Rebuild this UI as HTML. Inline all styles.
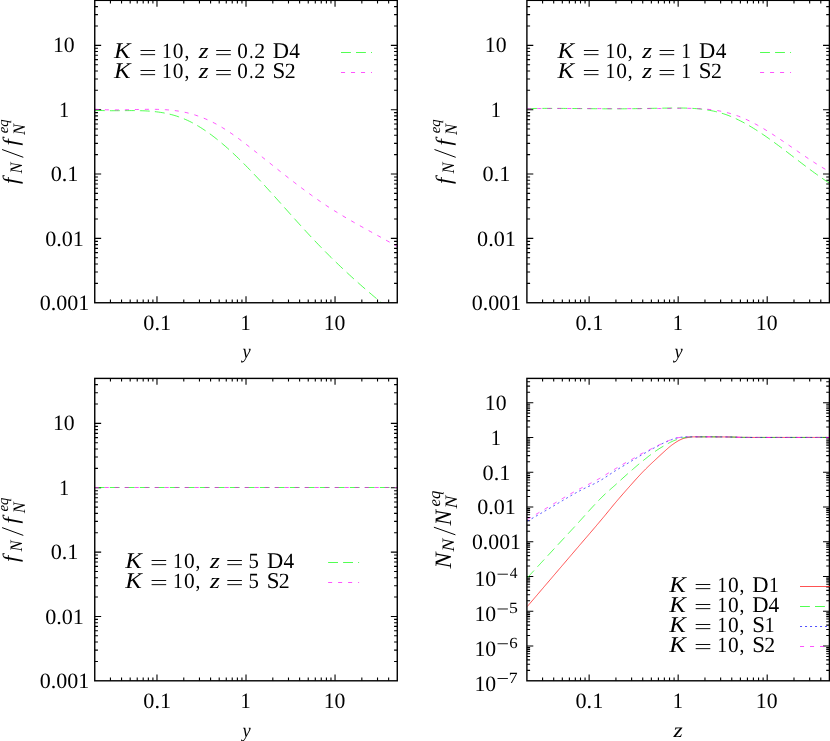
<!DOCTYPE html>
<html><head><meta charset="utf-8"><title>plots</title>
<style>html,body{margin:0;padding:0;background:#fff}svg{display:block}svg{will-change:transform}</style></head>
<body>
<svg width="830" height="741" viewBox="0 0 830 741" font-family="'Liberation Serif', serif" fill="#000" text-rendering="geometricPrecision">
<defs>
<clipPath id="c1"><rect x="94.75" y="0.35" width="304.52" height="302.4"/></clipPath>
<clipPath id="c2"><rect x="526.9" y="0.35" width="304.52" height="302.4"/></clipPath>
<clipPath id="c3"><rect x="94.75" y="378.4" width="304.52" height="302.4"/></clipPath>
<clipPath id="c4"><rect x="526.9" y="378.4" width="304.52" height="302.4"/></clipPath>
</defs>
<rect width="830" height="741" fill="#fff"/>
<path d="M110.43 302.75v-3.2M110.43 0.35v3.2M121.55 302.75v-3.2M121.55 0.35v3.2M130.18 302.75v-3.2M130.18 0.35v3.2M137.23 302.75v-3.2M137.23 0.35v3.2M143.19 302.75v-3.2M143.19 0.35v3.2M148.35 302.75v-3.2M148.35 0.35v3.2M152.91 302.75v-3.2M152.91 0.35v3.2M156.98 302.75v-6.4M156.98 0.35v6.4M183.78 302.75v-3.2M183.78 0.35v3.2M199.46 302.75v-3.2M199.46 0.35v3.2M210.58 302.75v-3.2M210.58 0.35v3.2M219.21 302.75v-3.2M219.21 0.35v3.2M226.26 302.75v-3.2M226.26 0.35v3.2M232.22 302.75v-3.2M232.22 0.35v3.2M237.38 302.75v-3.2M237.38 0.35v3.2M241.94 302.75v-3.2M241.94 0.35v3.2M246.01 302.75v-6.4M246.01 0.35v6.4M272.81 302.75v-3.2M272.81 0.35v3.2M288.49 302.75v-3.2M288.49 0.35v3.2M299.61 302.75v-3.2M299.61 0.35v3.2M308.24 302.75v-3.2M308.24 0.35v3.2M315.29 302.75v-3.2M315.29 0.35v3.2M321.25 302.75v-3.2M321.25 0.35v3.2M326.41 302.75v-3.2M326.41 0.35v3.2M330.97 302.75v-3.2M330.97 0.35v3.2M335.04 302.75v-6.4M335.04 0.35v6.4M361.84 302.75v-3.2M361.84 0.35v3.2M377.52 302.75v-3.2M377.52 0.35v3.2M388.64 302.75v-3.2M388.64 0.35v3.2M94.75 283.38h3.2M397.27 283.38h-3.2M94.75 272.05h3.2M397.27 272.05h-3.2M94.75 264h3.2M397.27 264h-3.2M94.75 257.77h3.2M397.27 257.77h-3.2M94.75 252.67h3.2M397.27 252.67h-3.2M94.75 248.36h3.2M397.27 248.36h-3.2M94.75 244.63h3.2M397.27 244.63h-3.2M94.75 241.34h3.2M397.27 241.34h-3.2M94.75 238.4h6.4M397.27 238.4h-6.4M94.75 219.02h3.2M397.27 219.02h-3.2M94.75 207.69h3.2M397.27 207.69h-3.2M94.75 199.65h3.2M397.27 199.65h-3.2M94.75 193.41h3.2M397.27 193.41h-3.2M94.75 188.32h3.2M397.27 188.32h-3.2M94.75 184.01h3.2M397.27 184.01h-3.2M94.75 180.28h3.2M397.27 180.28h-3.2M94.75 176.99h3.2M397.27 176.99h-3.2M94.75 174.04h6.4M397.27 174.04h-6.4M94.75 154.67h3.2M397.27 154.67h-3.2M94.75 143.34h3.2M397.27 143.34h-3.2M94.75 135.3h3.2M397.27 135.3h-3.2M94.75 129.06h3.2M397.27 129.06h-3.2M94.75 123.96h3.2M397.27 123.96h-3.2M94.75 119.66h3.2M397.27 119.66h-3.2M94.75 115.92h3.2M397.27 115.92h-3.2M94.75 112.63h3.2M397.27 112.63h-3.2M94.75 109.69h6.4M397.27 109.69h-6.4M94.75 90.31h3.2M397.27 90.31h-3.2M94.75 78.98h3.2M397.27 78.98h-3.2M94.75 70.94h3.2M397.27 70.94h-3.2M94.75 64.7h3.2M397.27 64.7h-3.2M94.75 59.61h3.2M397.27 59.61h-3.2M94.75 55.3h3.2M397.27 55.3h-3.2M94.75 51.57h3.2M397.27 51.57h-3.2M94.75 48.28h3.2M397.27 48.28h-3.2M94.75 45.33h6.4M397.27 45.33h-6.4M94.75 25.96h3.2M397.27 25.96h-3.2M94.75 14.63h3.2M397.27 14.63h-3.2M94.75 6.59h3.2M397.27 6.59h-3.2" stroke="#000" stroke-width="1.1" fill="none"/>
<path d="M542.58 302.75v-3.2M542.58 0.35v3.2M553.7 302.75v-3.2M553.7 0.35v3.2M562.33 302.75v-3.2M562.33 0.35v3.2M569.38 302.75v-3.2M569.38 0.35v3.2M575.34 302.75v-3.2M575.34 0.35v3.2M580.5 302.75v-3.2M580.5 0.35v3.2M585.06 302.75v-3.2M585.06 0.35v3.2M589.13 302.75v-6.4M589.13 0.35v6.4M615.93 302.75v-3.2M615.93 0.35v3.2M631.61 302.75v-3.2M631.61 0.35v3.2M642.73 302.75v-3.2M642.73 0.35v3.2M651.36 302.75v-3.2M651.36 0.35v3.2M658.41 302.75v-3.2M658.41 0.35v3.2M664.37 302.75v-3.2M664.37 0.35v3.2M669.53 302.75v-3.2M669.53 0.35v3.2M674.09 302.75v-3.2M674.09 0.35v3.2M678.16 302.75v-6.4M678.16 0.35v6.4M704.96 302.75v-3.2M704.96 0.35v3.2M720.64 302.75v-3.2M720.64 0.35v3.2M731.76 302.75v-3.2M731.76 0.35v3.2M740.39 302.75v-3.2M740.39 0.35v3.2M747.44 302.75v-3.2M747.44 0.35v3.2M753.4 302.75v-3.2M753.4 0.35v3.2M758.56 302.75v-3.2M758.56 0.35v3.2M763.12 302.75v-3.2M763.12 0.35v3.2M767.19 302.75v-6.4M767.19 0.35v6.4M793.99 302.75v-3.2M793.99 0.35v3.2M809.67 302.75v-3.2M809.67 0.35v3.2M820.79 302.75v-3.2M820.79 0.35v3.2M526.9 283.38h3.2M829.42 283.38h-3.2M526.9 272.05h3.2M829.42 272.05h-3.2M526.9 264h3.2M829.42 264h-3.2M526.9 257.77h3.2M829.42 257.77h-3.2M526.9 252.67h3.2M829.42 252.67h-3.2M526.9 248.36h3.2M829.42 248.36h-3.2M526.9 244.63h3.2M829.42 244.63h-3.2M526.9 241.34h3.2M829.42 241.34h-3.2M526.9 238.4h6.4M829.42 238.4h-6.4M526.9 219.02h3.2M829.42 219.02h-3.2M526.9 207.69h3.2M829.42 207.69h-3.2M526.9 199.65h3.2M829.42 199.65h-3.2M526.9 193.41h3.2M829.42 193.41h-3.2M526.9 188.32h3.2M829.42 188.32h-3.2M526.9 184.01h3.2M829.42 184.01h-3.2M526.9 180.28h3.2M829.42 180.28h-3.2M526.9 176.99h3.2M829.42 176.99h-3.2M526.9 174.04h6.4M829.42 174.04h-6.4M526.9 154.67h3.2M829.42 154.67h-3.2M526.9 143.34h3.2M829.42 143.34h-3.2M526.9 135.3h3.2M829.42 135.3h-3.2M526.9 129.06h3.2M829.42 129.06h-3.2M526.9 123.96h3.2M829.42 123.96h-3.2M526.9 119.66h3.2M829.42 119.66h-3.2M526.9 115.92h3.2M829.42 115.92h-3.2M526.9 112.63h3.2M829.42 112.63h-3.2M526.9 109.69h6.4M829.42 109.69h-6.4M526.9 90.31h3.2M829.42 90.31h-3.2M526.9 78.98h3.2M829.42 78.98h-3.2M526.9 70.94h3.2M829.42 70.94h-3.2M526.9 64.7h3.2M829.42 64.7h-3.2M526.9 59.61h3.2M829.42 59.61h-3.2M526.9 55.3h3.2M829.42 55.3h-3.2M526.9 51.57h3.2M829.42 51.57h-3.2M526.9 48.28h3.2M829.42 48.28h-3.2M526.9 45.33h6.4M829.42 45.33h-6.4M526.9 25.96h3.2M829.42 25.96h-3.2M526.9 14.63h3.2M829.42 14.63h-3.2M526.9 6.59h3.2M829.42 6.59h-3.2" stroke="#000" stroke-width="1.1" fill="none"/>
<path d="M110.43 680.8v-3.2M110.43 378.4v3.2M121.55 680.8v-3.2M121.55 378.4v3.2M130.18 680.8v-3.2M130.18 378.4v3.2M137.23 680.8v-3.2M137.23 378.4v3.2M143.19 680.8v-3.2M143.19 378.4v3.2M148.35 680.8v-3.2M148.35 378.4v3.2M152.91 680.8v-3.2M152.91 378.4v3.2M156.98 680.8v-6.4M156.98 378.4v6.4M183.78 680.8v-3.2M183.78 378.4v3.2M199.46 680.8v-3.2M199.46 378.4v3.2M210.58 680.8v-3.2M210.58 378.4v3.2M219.21 680.8v-3.2M219.21 378.4v3.2M226.26 680.8v-3.2M226.26 378.4v3.2M232.22 680.8v-3.2M232.22 378.4v3.2M237.38 680.8v-3.2M237.38 378.4v3.2M241.94 680.8v-3.2M241.94 378.4v3.2M246.01 680.8v-6.4M246.01 378.4v6.4M272.81 680.8v-3.2M272.81 378.4v3.2M288.49 680.8v-3.2M288.49 378.4v3.2M299.61 680.8v-3.2M299.61 378.4v3.2M308.24 680.8v-3.2M308.24 378.4v3.2M315.29 680.8v-3.2M315.29 378.4v3.2M321.25 680.8v-3.2M321.25 378.4v3.2M326.41 680.8v-3.2M326.41 378.4v3.2M330.97 680.8v-3.2M330.97 378.4v3.2M335.04 680.8v-6.4M335.04 378.4v6.4M361.84 680.8v-3.2M361.84 378.4v3.2M377.52 680.8v-3.2M377.52 378.4v3.2M388.64 680.8v-3.2M388.64 378.4v3.2M94.75 661.43h3.2M397.27 661.43h-3.2M94.75 650.1h3.2M397.27 650.1h-3.2M94.75 642.05h3.2M397.27 642.05h-3.2M94.75 635.82h3.2M397.27 635.82h-3.2M94.75 630.72h3.2M397.27 630.72h-3.2M94.75 626.41h3.2M397.27 626.41h-3.2M94.75 622.68h3.2M397.27 622.68h-3.2M94.75 619.39h3.2M397.27 619.39h-3.2M94.75 616.45h6.4M397.27 616.45h-6.4M94.75 597.07h3.2M397.27 597.07h-3.2M94.75 585.74h3.2M397.27 585.74h-3.2M94.75 577.7h3.2M397.27 577.7h-3.2M94.75 571.46h3.2M397.27 571.46h-3.2M94.75 566.37h3.2M397.27 566.37h-3.2M94.75 562.06h3.2M397.27 562.06h-3.2M94.75 558.33h3.2M397.27 558.33h-3.2M94.75 555.04h3.2M397.27 555.04h-3.2M94.75 552.09h6.4M397.27 552.09h-6.4M94.75 532.72h3.2M397.27 532.72h-3.2M94.75 521.39h3.2M397.27 521.39h-3.2M94.75 513.35h3.2M397.27 513.35h-3.2M94.75 507.11h3.2M397.27 507.11h-3.2M94.75 502.01h3.2M397.27 502.01h-3.2M94.75 497.71h3.2M397.27 497.71h-3.2M94.75 493.97h3.2M397.27 493.97h-3.2M94.75 490.68h3.2M397.27 490.68h-3.2M94.75 487.74h6.4M397.27 487.74h-6.4M94.75 468.36h3.2M397.27 468.36h-3.2M94.75 457.03h3.2M397.27 457.03h-3.2M94.75 448.99h3.2M397.27 448.99h-3.2M94.75 442.75h3.2M397.27 442.75h-3.2M94.75 437.66h3.2M397.27 437.66h-3.2M94.75 433.35h3.2M397.27 433.35h-3.2M94.75 429.62h3.2M397.27 429.62h-3.2M94.75 426.33h3.2M397.27 426.33h-3.2M94.75 423.38h6.4M397.27 423.38h-6.4M94.75 404.01h3.2M397.27 404.01h-3.2M94.75 392.68h3.2M397.27 392.68h-3.2M94.75 384.64h3.2M397.27 384.64h-3.2" stroke="#000" stroke-width="1.1" fill="none"/>
<path d="M542.58 680.8v-3.2M542.58 378.4v3.2M553.7 680.8v-3.2M553.7 378.4v3.2M562.33 680.8v-3.2M562.33 378.4v3.2M569.38 680.8v-3.2M569.38 378.4v3.2M575.34 680.8v-3.2M575.34 378.4v3.2M580.5 680.8v-3.2M580.5 378.4v3.2M585.06 680.8v-3.2M585.06 378.4v3.2M589.13 680.8v-6.4M589.13 378.4v6.4M615.93 680.8v-3.2M615.93 378.4v3.2M631.61 680.8v-3.2M631.61 378.4v3.2M642.73 680.8v-3.2M642.73 378.4v3.2M651.36 680.8v-3.2M651.36 378.4v3.2M658.41 680.8v-3.2M658.41 378.4v3.2M664.37 680.8v-3.2M664.37 378.4v3.2M669.53 680.8v-3.2M669.53 378.4v3.2M674.09 680.8v-3.2M674.09 378.4v3.2M678.16 680.8v-6.4M678.16 378.4v6.4M704.96 680.8v-3.2M704.96 378.4v3.2M720.64 680.8v-3.2M720.64 378.4v3.2M731.76 680.8v-3.2M731.76 378.4v3.2M740.39 680.8v-3.2M740.39 378.4v3.2M747.44 680.8v-3.2M747.44 378.4v3.2M753.4 680.8v-3.2M753.4 378.4v3.2M758.56 680.8v-3.2M758.56 378.4v3.2M763.12 680.8v-3.2M763.12 378.4v3.2M767.19 680.8v-6.4M767.19 378.4v6.4M793.99 680.8v-3.2M793.99 378.4v3.2M809.67 680.8v-3.2M809.67 378.4v3.2M820.79 680.8v-3.2M820.79 378.4v3.2M526.9 670.34h3.2M829.42 670.34h-3.2M526.9 664.21h3.2M829.42 664.21h-3.2M526.9 659.87h3.2M829.42 659.87h-3.2M526.9 656.5h3.2M829.42 656.5h-3.2M526.9 653.75h3.2M829.42 653.75h-3.2M526.9 651.42h3.2M829.42 651.42h-3.2M526.9 649.41h3.2M829.42 649.41h-3.2M526.9 647.63h3.2M829.42 647.63h-3.2M526.9 646.04h6.4M829.42 646.04h-6.4M526.9 635.57h3.2M829.42 635.57h-3.2M526.9 629.45h3.2M829.42 629.45h-3.2M526.9 625.11h3.2M829.42 625.11h-3.2M526.9 621.74h3.2M829.42 621.74h-3.2M526.9 618.99h3.2M829.42 618.99h-3.2M526.9 616.66h3.2M829.42 616.66h-3.2M526.9 614.64h3.2M829.42 614.64h-3.2M526.9 612.87h3.2M829.42 612.87h-3.2M526.9 611.27h6.4M829.42 611.27h-6.4M526.9 600.81h3.2M829.42 600.81h-3.2M526.9 594.69h3.2M829.42 594.69h-3.2M526.9 590.35h3.2M829.42 590.35h-3.2M526.9 586.98h3.2M829.42 586.98h-3.2M526.9 584.22h3.2M829.42 584.22h-3.2M526.9 581.9h3.2M829.42 581.9h-3.2M526.9 579.88h3.2M829.42 579.88h-3.2M526.9 578.1h3.2M829.42 578.1h-3.2M526.9 576.51h6.4M829.42 576.51h-6.4M526.9 566.05h3.2M829.42 566.05h-3.2M526.9 559.93h3.2M829.42 559.93h-3.2M526.9 555.58h3.2M829.42 555.58h-3.2M526.9 552.21h3.2M829.42 552.21h-3.2M526.9 549.46h3.2M829.42 549.46h-3.2M526.9 547.13h3.2M829.42 547.13h-3.2M526.9 545.12h3.2M829.42 545.12h-3.2M526.9 543.34h3.2M829.42 543.34h-3.2M526.9 541.75h6.4M829.42 541.75h-6.4M526.9 531.28h3.2M829.42 531.28h-3.2M526.9 525.16h3.2M829.42 525.16h-3.2M526.9 520.82h3.2M829.42 520.82h-3.2M526.9 517.45h3.2M829.42 517.45h-3.2M526.9 514.7h3.2M829.42 514.7h-3.2M526.9 512.37h3.2M829.42 512.37h-3.2M526.9 510.36h3.2M829.42 510.36h-3.2M526.9 508.58h3.2M829.42 508.58h-3.2M526.9 506.99h6.4M829.42 506.99h-6.4M526.9 496.52h3.2M829.42 496.52h-3.2M526.9 490.4h3.2M829.42 490.4h-3.2M526.9 486.06h3.2M829.42 486.06h-3.2M526.9 482.69h3.2M829.42 482.69h-3.2M526.9 479.94h3.2M829.42 479.94h-3.2M526.9 477.61h3.2M829.42 477.61h-3.2M526.9 475.59h3.2M829.42 475.59h-3.2M526.9 473.81h3.2M829.42 473.81h-3.2M526.9 472.22h6.4M829.42 472.22h-6.4M526.9 461.76h3.2M829.42 461.76h-3.2M526.9 455.64h3.2M829.42 455.64h-3.2M526.9 451.29h3.2M829.42 451.29h-3.2M526.9 447.93h3.2M829.42 447.93h-3.2M526.9 445.17h3.2M829.42 445.17h-3.2M526.9 442.85h3.2M829.42 442.85h-3.2M526.9 440.83h3.2M829.42 440.83h-3.2M526.9 439.05h3.2M829.42 439.05h-3.2M526.9 437.46h6.4M829.42 437.46h-6.4M526.9 427h3.2M829.42 427h-3.2M526.9 420.87h3.2M829.42 420.87h-3.2M526.9 416.53h3.2M829.42 416.53h-3.2M526.9 413.16h3.2M829.42 413.16h-3.2M526.9 410.41h3.2M829.42 410.41h-3.2M526.9 408.08h3.2M829.42 408.08h-3.2M526.9 406.07h3.2M829.42 406.07h-3.2M526.9 404.29h3.2M829.42 404.29h-3.2M526.9 402.7h6.4M829.42 402.7h-6.4M526.9 392.23h3.2M829.42 392.23h-3.2M526.9 386.11h3.2M829.42 386.11h-3.2M526.9 381.77h3.2M829.42 381.77h-3.2" stroke="#000" stroke-width="1.1" fill="none"/>
<path d="M94.9 110.17 L96.72 110.3 L98.54 110.4 L100.35 110.49 L102.17 110.56 L103.99 110.61 L105.81 110.66 L107.63 110.69 L109.45 110.7 L111.26 110.72 L113.08 110.72 L114.9 110.71 L116.72 110.7 L118.54 110.69 L120.36 110.67 L122.17 110.65 L123.99 110.64 L125.81 110.62 L127.63 110.61 L129.45 110.6 L131.26 110.59 L133.08 110.59 L134.9 110.6 L136.72 110.62 L138.54 110.66 L140.36 110.7 L142.17 110.75 L143.99 110.82 L145.81 110.91 L147.63 111.02 L149.45 111.14 L151.27 111.28 L153.08 111.45 L154.9 111.63 L156.72 111.85 L158.54 112.08 L160.36 112.35 L162.17 112.64 L163.99 112.96 L165.81 113.31 L167.63 113.7 L169.45 114.12 L171.27 114.57 L173.08 115.06 L174.9 115.58 L176.72 116.15 L178.54 116.76 L180.36 117.4 L182.18 118.09 L183.99 118.83 L185.81 119.61 L187.63 120.43 L189.45 121.3 L191.27 122.21 L193.08 123.17 L194.9 124.16 L196.72 125.2 L198.54 126.28 L200.36 127.39 L202.18 128.55 L203.99 129.74 L205.81 130.97 L207.63 132.24 L209.45 133.54 L211.27 134.87 L213.09 136.24 L214.9 137.64 L216.72 139.07 L218.54 140.53 L220.36 142.03 L222.18 143.55 L223.99 145.1 L225.81 146.68 L227.63 148.29 L229.45 149.92 L231.27 151.58 L233.09 153.26 L234.9 154.97 L236.72 156.7 L238.54 158.45 L240.36 160.23 L242.18 162.02 L244 163.83 L245.81 165.67 L247.63 167.52 L249.45 169.38 L251.27 171.27 L253.09 173.17 L254.91 175.08 L256.72 177.01 L258.54 178.95 L260.36 180.9 L262.18 182.87 L264 184.84 L265.81 186.83 L267.63 188.82 L269.45 190.83 L271.27 192.83 L273.09 194.85 L274.91 196.87 L276.72 198.9 L278.54 200.92 L280.36 202.96 L282.18 204.99 L284 207.02 L285.82 209.06 L287.63 211.09 L289.45 213.12 L291.27 215.15 L293.09 217.18 L294.91 219.2 L296.72 221.22 L298.54 223.23 L300.36 225.24 L302.18 227.24 L304 229.23 L305.82 231.21 L307.63 233.18 L309.45 235.14 L311.27 237.08 L313.09 239.02 L314.91 240.94 L316.73 242.85 L318.54 244.74 L320.36 246.62 L322.18 248.48 L324 250.33 L325.82 252.17 L327.63 253.99 L329.45 255.81 L331.27 257.6 L333.09 259.39 L334.91 261.16 L336.73 262.92 L338.54 264.67 L340.36 266.41 L342.18 268.13 L344 269.84 L345.82 271.54 L347.64 273.23 L349.45 274.9 L351.27 276.57 L353.09 278.22 L354.91 279.86 L356.73 281.5 L358.54 283.12 L360.36 284.73 L362.18 286.33 L364 287.92 L365.82 289.5 L367.64 291.07 L369.45 292.63 L371.27 294.18 L373.09 295.72 L374.91 297.25 L376.73 298.77 L378.55 300.28 L380.36 301.78 L382.18 303.28 L384 304.77" fill="none" stroke="#00ff00" stroke-width="0.68" stroke-dasharray="9.9 5.1" clip-path="url(#c1)"/>
<path d="M94.9 109.2 L96.8 109.35 L98.7 109.47 L100.61 109.58 L102.51 109.67 L104.41 109.74 L106.31 109.8 L108.21 109.84 L110.11 109.88 L112.02 109.89 L113.92 109.9 L115.82 109.9 L117.72 109.89 L119.62 109.87 L121.52 109.85 L123.43 109.81 L125.33 109.78 L127.23 109.74 L129.13 109.69 L131.03 109.65 L132.93 109.6 L134.84 109.55 L136.74 109.51 L138.64 109.47 L140.54 109.43 L142.44 109.39 L144.34 109.36 L146.25 109.34 L148.15 109.32 L150.05 109.31 L151.95 109.31 L153.85 109.33 L155.75 109.35 L157.66 109.39 L159.56 109.44 L161.46 109.51 L163.36 109.6 L165.26 109.7 L167.16 109.83 L169.07 109.98 L170.97 110.15 L172.87 110.35 L174.77 110.58 L176.67 110.83 L178.57 111.11 L180.48 111.43 L182.38 111.78 L184.28 112.16 L186.18 112.57 L188.08 113.03 L189.98 113.52 L191.89 114.04 L193.79 114.61 L195.69 115.21 L197.59 115.85 L199.49 116.53 L201.39 117.24 L203.3 117.99 L205.2 118.78 L207.1 119.61 L209 120.47 L210.9 121.37 L212.8 122.31 L214.71 123.29 L216.61 124.3 L218.51 125.36 L220.41 126.45 L222.31 127.58 L224.21 128.75 L226.12 129.95 L228.02 131.19 L229.92 132.46 L231.82 133.76 L233.72 135.09 L235.63 136.45 L237.53 137.83 L239.43 139.24 L241.33 140.66 L243.23 142.1 L245.13 143.56 L247.04 145.03 L248.94 146.52 L250.84 148.01 L252.74 149.51 L254.64 151.02 L256.54 152.53 L258.45 154.05 L260.35 155.57 L262.25 157.08 L264.15 158.6 L266.05 160.12 L267.95 161.64 L269.86 163.16 L271.76 164.68 L273.66 166.2 L275.56 167.71 L277.46 169.23 L279.36 170.74 L281.27 172.24 L283.17 173.74 L285.07 175.24 L286.97 176.73 L288.87 178.22 L290.77 179.7 L292.68 181.17 L294.58 182.64 L296.48 184.1 L298.38 185.55 L300.28 186.99 L302.18 188.42 L304.09 189.84 L305.99 191.25 L307.89 192.65 L309.79 194.04 L311.69 195.42 L313.59 196.78 L315.5 198.13 L317.4 199.47 L319.3 200.79 L321.2 202.1 L323.1 203.4 L325 204.67 L326.91 205.94 L328.81 207.18 L330.71 208.41 L332.61 209.62 L334.51 210.82 L336.41 212.01 L338.32 213.18 L340.22 214.33 L342.12 215.48 L344.02 216.61 L345.92 217.74 L347.82 218.85 L349.73 219.96 L351.63 221.05 L353.53 222.14 L355.43 223.22 L357.33 224.29 L359.23 225.36 L361.14 226.42 L363.04 227.48 L364.94 228.53 L366.84 229.58 L368.74 230.63 L370.64 231.68 L372.55 232.72 L374.45 233.77 L376.35 234.81 L378.25 235.86 L380.15 236.9 L382.06 237.95 L383.96 239 L385.86 240.06 L387.76 241.12 L389.66 242.19 L391.56 243.26 L393.47 244.33 L395.37 245.42 L397.27 246.51" fill="none" stroke="#ff00ff" stroke-width="0.68" stroke-dasharray="4.05 5.95" clip-path="url(#c1)"/>
<path d="M527.3 108.62 L529.2 108.58 L531.1 108.54 L533.01 108.51 L534.91 108.48 L536.81 108.46 L538.71 108.44 L540.61 108.42 L542.52 108.41 L544.42 108.4 L546.32 108.39 L548.22 108.38 L550.12 108.38 L552.02 108.38 L553.93 108.38 L555.83 108.39 L557.73 108.39 L559.63 108.4 L561.53 108.41 L563.44 108.42 L565.34 108.44 L567.24 108.45 L569.14 108.47 L571.04 108.48 L572.95 108.5 L574.85 108.52 L576.75 108.54 L578.65 108.56 L580.55 108.58 L582.45 108.6 L584.36 108.62 L586.26 108.64 L588.16 108.66 L590.06 108.68 L591.96 108.7 L593.87 108.71 L595.77 108.73 L597.67 108.75 L599.57 108.76 L601.47 108.78 L603.38 108.79 L605.28 108.8 L607.18 108.81 L609.08 108.82 L610.98 108.82 L612.88 108.82 L614.79 108.82 L616.69 108.82 L618.59 108.82 L620.49 108.81 L622.39 108.8 L624.3 108.79 L626.2 108.77 L628.1 108.75 L630 108.73 L631.9 108.71 L633.81 108.68 L635.71 108.65 L637.61 108.62 L639.51 108.59 L641.41 108.55 L643.32 108.52 L645.22 108.48 L647.12 108.45 L649.02 108.41 L650.92 108.37 L652.82 108.34 L654.73 108.3 L656.63 108.27 L658.53 108.23 L660.43 108.2 L662.33 108.17 L664.24 108.14 L666.14 108.11 L668.04 108.08 L669.94 108.06 L671.84 108.04 L673.75 108.02 L675.65 108.01 L677.55 108 L679.45 108.01 L681.35 108.02 L683.25 108.05 L685.16 108.09 L687.06 108.14 L688.96 108.21 L690.86 108.29 L692.76 108.39 L694.67 108.52 L696.57 108.66 L698.47 108.83 L700.37 109.02 L702.27 109.23 L704.18 109.48 L706.08 109.75 L707.98 110.05 L709.88 110.38 L711.78 110.75 L713.68 111.14 L715.59 111.58 L717.49 112.04 L719.39 112.55 L721.29 113.1 L723.19 113.68 L725.1 114.31 L727 114.98 L728.9 115.7 L730.8 116.45 L732.7 117.25 L734.61 118.09 L736.51 118.97 L738.41 119.88 L740.31 120.83 L742.21 121.81 L744.12 122.83 L746.02 123.88 L747.92 124.96 L749.82 126.07 L751.72 127.21 L753.62 128.38 L755.53 129.57 L757.43 130.79 L759.33 132.03 L761.23 133.29 L763.13 134.58 L765.04 135.89 L766.94 137.21 L768.84 138.55 L770.74 139.91 L772.64 141.28 L774.55 142.67 L776.45 144.07 L778.35 145.48 L780.25 146.9 L782.15 148.33 L784.05 149.77 L785.96 151.21 L787.86 152.66 L789.76 154.12 L791.66 155.57 L793.56 157.03 L795.47 158.49 L797.37 159.95 L799.27 161.4 L801.17 162.85 L803.07 164.3 L804.98 165.74 L806.88 167.18 L808.78 168.6 L810.68 170.02 L812.58 171.43 L814.48 172.82 L816.39 174.2 L818.29 175.57 L820.19 176.92 L822.09 178.25 L823.99 179.57 L825.9 180.86 L827.8 182.14 L829.7 183.39" fill="none" stroke="#00ff00" stroke-width="0.68" stroke-dasharray="9.9 5.1"/>
<path d="M527.3 108.58 L529.2 108.57 L531.1 108.56 L533.01 108.55 L534.91 108.54 L536.81 108.53 L538.71 108.53 L540.61 108.52 L542.52 108.51 L544.42 108.51 L546.32 108.51 L548.22 108.5 L550.12 108.5 L552.02 108.5 L553.93 108.5 L555.83 108.5 L557.73 108.5 L559.63 108.5 L561.53 108.5 L563.44 108.5 L565.34 108.5 L567.24 108.51 L569.14 108.51 L571.04 108.51 L572.95 108.52 L574.85 108.52 L576.75 108.53 L578.65 108.53 L580.55 108.53 L582.45 108.54 L584.36 108.54 L586.26 108.55 L588.16 108.55 L590.06 108.56 L591.96 108.56 L593.87 108.57 L595.77 108.57 L597.67 108.58 L599.57 108.58 L601.47 108.59 L603.38 108.59 L605.28 108.6 L607.18 108.6 L609.08 108.61 L610.98 108.61 L612.88 108.61 L614.79 108.62 L616.69 108.62 L618.59 108.62 L620.49 108.62 L622.39 108.62 L624.3 108.62 L626.2 108.62 L628.1 108.62 L630 108.62 L631.9 108.62 L633.81 108.62 L635.71 108.61 L637.61 108.61 L639.51 108.61 L641.41 108.6 L643.32 108.59 L645.22 108.59 L647.12 108.58 L649.02 108.57 L650.92 108.56 L652.82 108.55 L654.73 108.54 L656.63 108.53 L658.53 108.51 L660.43 108.5 L662.33 108.48 L664.24 108.46 L666.14 108.45 L668.04 108.43 L669.94 108.41 L671.84 108.38 L673.75 108.36 L675.65 108.34 L677.55 108.32 L679.45 108.31 L681.35 108.3 L683.25 108.29 L685.16 108.3 L687.06 108.31 L688.96 108.33 L690.86 108.36 L692.76 108.4 L694.67 108.46 L696.57 108.53 L698.47 108.62 L700.37 108.72 L702.27 108.84 L704.18 108.98 L706.08 109.14 L707.98 109.32 L709.88 109.53 L711.78 109.76 L713.68 110.01 L715.59 110.29 L717.49 110.6 L719.39 110.94 L721.29 111.31 L723.19 111.71 L725.1 112.14 L727 112.6 L728.9 113.1 L730.8 113.64 L732.7 114.21 L734.61 114.82 L736.51 115.48 L738.41 116.17 L740.31 116.9 L742.21 117.68 L744.12 118.49 L746.02 119.34 L747.92 120.22 L749.82 121.15 L751.72 122.1 L753.62 123.08 L755.53 124.1 L757.43 125.14 L759.33 126.21 L761.23 127.31 L763.13 128.43 L765.04 129.57 L766.94 130.74 L768.84 131.92 L770.74 133.12 L772.64 134.34 L774.55 135.58 L776.45 136.83 L778.35 138.09 L780.25 139.37 L782.15 140.65 L784.05 141.94 L785.96 143.24 L787.86 144.55 L789.76 145.86 L791.66 147.17 L793.56 148.48 L795.47 149.8 L797.37 151.11 L799.27 152.42 L801.17 153.72 L803.07 155.02 L804.98 156.31 L806.88 157.59 L808.78 158.87 L810.68 160.13 L812.58 161.37 L814.48 162.61 L816.39 163.82 L818.29 165.02 L820.19 166.2 L822.09 167.36 L823.99 168.5 L825.9 169.61 L827.8 170.7 L829.7 171.77" fill="none" stroke="#ff00ff" stroke-width="0.68" stroke-dasharray="4.05 5.95"/>
<path d="M94.75 487.5 L397.27 487.5" fill="none" stroke="#00ff00" stroke-width="0.68" stroke-dasharray="9.9 5.1"/>
<path d="M94.75 487.5 L397.27 487.5" fill="none" stroke="#ff00ff" stroke-width="0.68" stroke-dasharray="4.05 5.95"/>
<path d="M527.3 606.5 L528.25 605.39 L529.2 604.28 L530.14 603.16 L531.09 602.05 L532.04 600.94 L532.99 599.83 L533.94 598.71 L534.88 597.6 L535.83 596.49 L536.78 595.38 L537.73 594.27 L538.68 593.16 L539.62 592.04 L540.57 590.93 L541.52 589.82 L542.47 588.71 L543.42 587.6 L544.36 586.49 L545.31 585.38 L546.26 584.27 L547.21 583.16 L548.16 582.05 L549.1 580.94 L550.05 579.83 L551 578.72 L551.95 577.61 L552.89 576.5 L553.84 575.39 L554.79 574.28 L555.74 573.17 L556.69 572.06 L557.63 570.95 L558.58 569.84 L559.53 568.73 L560.48 567.63 L561.43 566.52 L562.37 565.41 L563.32 564.3 L564.27 563.19 L565.22 562.08 L566.17 560.97 L567.11 559.86 L568.06 558.75 L569.01 557.64 L569.96 556.53 L570.91 555.42 L571.85 554.31 L572.8 553.2 L573.75 552.09 L574.7 550.98 L575.65 549.87 L576.59 548.76 L577.54 547.66 L578.49 546.55 L579.44 545.45 L580.39 544.34 L581.33 543.24 L582.28 542.13 L583.23 541.03 L584.18 539.92 L585.13 538.82 L586.07 537.72 L587.02 536.61 L587.97 535.51 L588.92 534.4 L589.87 533.29 L590.81 532.19 L591.76 531.08 L592.71 529.97 L593.66 528.85 L594.61 527.74 L595.55 526.63 L596.5 525.51 L597.45 524.39 L598.4 523.27 L599.35 522.15 L600.29 521.02 L601.24 519.9 L602.19 518.77 L603.14 517.63 L604.08 516.5 L605.03 515.35 L605.98 514.2 L606.93 513.04 L607.88 511.88 L608.82 510.71 L609.77 509.54 L610.72 508.37 L611.67 507.21 L612.62 506.06 L613.56 504.92 L614.51 503.79 L615.46 502.66 L616.41 501.54 L617.36 500.43 L618.3 499.32 L619.25 498.22 L620.2 497.12 L621.15 496.02 L622.1 494.93 L623.04 493.84 L623.99 492.76 L624.94 491.68 L625.89 490.6 L626.84 489.53 L627.78 488.46 L628.73 487.39 L629.68 486.32 L630.63 485.26 L631.58 484.19 L632.52 483.12 L633.47 482.06 L634.42 480.99 L635.37 479.94 L636.32 478.88 L637.26 477.84 L638.21 476.8 L639.16 475.77 L640.11 474.75 L641.06 473.74 L642 472.74 L642.95 471.76 L643.9 470.79 L644.85 469.83 L645.8 468.89 L646.74 467.96 L647.69 467.03 L648.64 466.11 L649.59 465.21 L650.54 464.3 L651.48 463.41 L652.43 462.52 L653.38 461.63 L654.33 460.74 L655.27 459.86 L656.22 458.97 L657.17 458.09 L658.12 457.2 L659.07 456.32 L660.01 455.44 L660.96 454.56 L661.91 453.69 L662.86 452.83 L663.81 451.96 L664.75 451.11 L665.7 450.26 L666.65 449.4 L667.6 448.55 L668.55 447.71 L669.49 446.91 L670.44 446.15 L671.39 445.42 L672.34 444.71 L673.29 444.03 L674.23 443.38 L675.18 442.75 L676.13 442.12 L677.08 441.51 L678.03 440.94 L678.97 440.41 L679.92 439.95 L680.87 439.52 L681.82 439.11 L682.77 438.74 L683.71 438.42 L684.66 438.16 L685.61 437.94 L686.56 437.75 L687.51 437.58 L688.45 437.43 L689.4 437.29 L690.35 437.14 L691.3 436.99 L692.25 436.89 L693.19 436.86 L694.14 436.86 L695.09 436.85 L696.04 436.85 L696.99 436.85 L697.93 436.85 L698.88 436.85 L699.83 436.85 L700.78 436.85 L701.73 436.85 L702.67 436.85 L703.62 436.85 L704.57 436.85 L705.52 436.85 L706.46 436.85 L707.41 436.85 L708.36 436.85 L709.31 436.85 L710.26 436.85 L711.2 436.85 L712.15 436.85 L713.1 436.86 L714.05 436.86 L715 436.87 L715.94 436.87 L716.89 436.88 L717.84 436.89 L718.79 436.89 L719.74 436.9 L720.68 436.9 L721.63 436.91 L722.58 436.92 L723.53 436.93 L724.48 436.93 L725.42 436.94 L726.37 436.95 L727.32 436.96 L728.27 436.98 L729.22 436.99 L730.16 437 L731.11 437.02 L732.06 437.05 L733.01 437.07 L733.96 437.1 L734.9 437.14 L735.85 437.17 L736.8 437.19 L737.75 437.22 L738.7 437.25 L739.64 437.28 L740.59 437.31 L741.54 437.34 L742.49 437.36 L743.44 437.38 L744.38 437.39 L745.33 437.4 L746.28 437.41 L747.23 437.41 L748.18 437.42 L749.12 437.42 L750.07 437.43 L751.02 437.43 L751.97 437.44 L752.92 437.44 L753.86 437.44 L754.81 437.44 L755.76 437.45 L756.71 437.45 L757.65 437.45 L758.6 437.45 L759.55 437.45 L760.5 437.45 L761.45 437.45 L762.39 437.45 L763.34 437.45 L764.29 437.45 L765.24 437.45 L766.19 437.45 L767.13 437.45 L768.08 437.45 L769.03 437.45 L769.98 437.45 L770.93 437.45 L771.87 437.45 L772.82 437.45 L773.77 437.45 L774.72 437.45 L775.67 437.45 L776.61 437.45 L777.56 437.45 L778.51 437.45 L779.46 437.45 L780.41 437.45 L781.35 437.45 L782.3 437.45 L783.25 437.45 L784.2 437.45 L785.15 437.45 L786.09 437.45 L787.04 437.45 L787.99 437.45 L788.94 437.45 L789.89 437.45 L790.83 437.45 L791.78 437.45 L792.73 437.45 L793.68 437.45 L794.63 437.45 L795.57 437.45 L796.52 437.45 L797.47 437.45 L798.42 437.45 L799.37 437.45 L800.31 437.45 L801.26 437.45 L802.21 437.45 L803.16 437.45 L804.11 437.45 L805.05 437.45 L806 437.45 L806.95 437.45 L807.9 437.45 L808.84 437.45 L809.79 437.45 L810.74 437.45 L811.69 437.45 L812.64 437.45 L813.58 437.45 L814.53 437.45 L815.48 437.45 L816.43 437.45 L817.38 437.45 L818.32 437.45 L819.27 437.45 L820.22 437.45 L821.17 437.45 L822.12 437.45 L823.06 437.45 L824.01 437.45 L824.96 437.45 L825.91 437.45 L826.86 437.45 L827.8 437.45 L828.75 437.45 L829.7 437.45" fill="none" stroke="#ff0000" stroke-width="0.68"/>
<path d="M527.3 577.8 L528.25 576.77 L529.2 575.75 L530.14 574.72 L531.09 573.7 L532.04 572.67 L532.99 571.64 L533.94 570.62 L534.88 569.59 L535.83 568.57 L536.78 567.54 L537.73 566.52 L538.68 565.49 L539.62 564.47 L540.57 563.44 L541.52 562.42 L542.47 561.4 L543.42 560.37 L544.36 559.35 L545.31 558.32 L546.26 557.3 L547.21 556.28 L548.16 555.25 L549.1 554.23 L550.05 553.21 L551 552.18 L551.95 551.16 L552.89 550.14 L553.84 549.12 L554.79 548.1 L555.74 547.07 L556.69 546.05 L557.63 545.03 L558.58 544.01 L559.53 542.99 L560.48 541.97 L561.43 540.94 L562.37 539.92 L563.32 538.9 L564.27 537.88 L565.22 536.86 L566.17 535.84 L567.11 534.82 L568.06 533.8 L569.01 532.77 L569.96 531.75 L570.91 530.73 L571.85 529.71 L572.8 528.69 L573.75 527.67 L574.7 526.65 L575.65 525.62 L576.59 524.58 L577.54 523.54 L578.49 522.5 L579.44 521.45 L580.39 520.4 L581.33 519.35 L582.28 518.29 L583.23 517.24 L584.18 516.18 L585.13 515.12 L586.07 514.07 L587.02 513.02 L587.97 511.96 L588.92 510.91 L589.87 509.87 L590.81 508.83 L591.76 507.79 L592.71 506.76 L593.66 505.73 L594.61 504.71 L595.55 503.7 L596.5 502.69 L597.45 501.7 L598.4 500.71 L599.35 499.74 L600.29 498.77 L601.24 497.81 L602.19 496.87 L603.14 495.94 L604.08 495.02 L605.03 494.12 L605.98 493.24 L606.93 492.38 L607.88 491.53 L608.82 490.69 L609.77 489.86 L610.72 489.03 L611.67 488.2 L612.62 487.37 L613.56 486.54 L614.51 485.69 L615.46 484.83 L616.41 483.98 L617.36 483.12 L618.3 482.25 L619.25 481.39 L620.2 480.52 L621.15 479.66 L622.1 478.8 L623.04 477.93 L623.99 477.08 L624.94 476.22 L625.89 475.37 L626.84 474.52 L627.78 473.68 L628.73 472.85 L629.68 472.02 L630.63 471.19 L631.58 470.36 L632.52 469.54 L633.47 468.71 L634.42 467.89 L635.37 467.08 L636.32 466.27 L637.26 465.46 L638.21 464.66 L639.16 463.86 L640.11 463.07 L641.06 462.29 L642 461.52 L642.95 460.76 L643.9 460 L644.85 459.25 L645.8 458.5 L646.74 457.75 L647.69 457 L648.64 456.26 L649.59 455.53 L650.54 454.81 L651.48 454.09 L652.43 453.38 L653.38 452.68 L654.33 452 L655.27 451.32 L656.22 450.66 L657.17 450.02 L658.12 449.39 L659.07 448.78 L660.01 448.19 L660.96 447.61 L661.91 447.05 L662.86 446.49 L663.81 445.94 L664.75 445.4 L665.7 444.85 L666.65 444.31 L667.6 443.78 L668.55 443.26 L669.49 442.76 L670.44 442.28 L671.39 441.81 L672.34 441.36 L673.29 440.92 L674.23 440.52 L675.18 440.16 L676.13 439.82 L677.08 439.5 L678.03 439.2 L678.97 438.92 L679.92 438.66 L680.87 438.41 L681.82 438.16 L682.77 437.93 L683.71 437.74 L684.66 437.58 L685.61 437.44 L686.56 437.32 L687.51 437.21 L688.45 437.12 L689.4 437.04 L690.35 436.98 L691.3 436.92 L692.25 436.87 L693.19 436.86 L694.14 436.86 L695.09 436.85 L696.04 436.85 L696.99 436.85 L697.93 436.85 L698.88 436.85 L699.83 436.85 L700.78 436.85 L701.73 436.85 L702.67 436.85 L703.62 436.85 L704.57 436.85 L705.52 436.85 L706.46 436.85 L707.41 436.85 L708.36 436.85 L709.31 436.85 L710.26 436.85 L711.2 436.85 L712.15 436.85 L713.1 436.86 L714.05 436.86 L715 436.87 L715.94 436.87 L716.89 436.88 L717.84 436.89 L718.79 436.89 L719.74 436.9 L720.68 436.9 L721.63 436.91 L722.58 436.92 L723.53 436.93 L724.48 436.93 L725.42 436.94 L726.37 436.95 L727.32 436.96 L728.27 436.98 L729.22 436.99 L730.16 437 L731.11 437.02 L732.06 437.05 L733.01 437.07 L733.96 437.1 L734.9 437.14 L735.85 437.17 L736.8 437.19 L737.75 437.22 L738.7 437.25 L739.64 437.28 L740.59 437.31 L741.54 437.34 L742.49 437.36 L743.44 437.38 L744.38 437.39 L745.33 437.4 L746.28 437.41 L747.23 437.41 L748.18 437.42 L749.12 437.42 L750.07 437.43 L751.02 437.43 L751.97 437.44 L752.92 437.44 L753.86 437.44 L754.81 437.44 L755.76 437.45 L756.71 437.45 L757.65 437.45 L758.6 437.45 L759.55 437.45 L760.5 437.45 L761.45 437.45 L762.39 437.45 L763.34 437.45 L764.29 437.45 L765.24 437.45 L766.19 437.45 L767.13 437.45 L768.08 437.45 L769.03 437.45 L769.98 437.45 L770.93 437.45 L771.87 437.45 L772.82 437.45 L773.77 437.45 L774.72 437.45 L775.67 437.45 L776.61 437.45 L777.56 437.45 L778.51 437.45 L779.46 437.45 L780.41 437.45 L781.35 437.45 L782.3 437.45 L783.25 437.45 L784.2 437.45 L785.15 437.45 L786.09 437.45 L787.04 437.45 L787.99 437.45 L788.94 437.45 L789.89 437.45 L790.83 437.45 L791.78 437.45 L792.73 437.45 L793.68 437.45 L794.63 437.45 L795.57 437.45 L796.52 437.45 L797.47 437.45 L798.42 437.45 L799.37 437.45 L800.31 437.45 L801.26 437.45 L802.21 437.45 L803.16 437.45 L804.11 437.45 L805.05 437.45 L806 437.45 L806.95 437.45 L807.9 437.45 L808.84 437.45 L809.79 437.45 L810.74 437.45 L811.69 437.45 L812.64 437.45 L813.58 437.45 L814.53 437.45 L815.48 437.45 L816.43 437.45 L817.38 437.45 L818.32 437.45 L819.27 437.45 L820.22 437.45 L821.17 437.45 L822.12 437.45 L823.06 437.45 L824.01 437.45 L824.96 437.45 L825.91 437.45 L826.86 437.45 L827.8 437.45 L828.75 437.45 L829.7 437.45" fill="none" stroke="#00ff00" stroke-width="0.68" stroke-dasharray="9.9 5.1"/>
<path d="M527.3 521.2 L528.25 520.65 L529.2 520.1 L530.14 519.56 L531.09 519.01 L532.04 518.46 L532.99 517.91 L533.94 517.36 L534.88 516.82 L535.83 516.27 L536.78 515.72 L537.73 515.17 L538.68 514.62 L539.62 514.07 L540.57 513.52 L541.52 512.98 L542.47 512.43 L543.42 511.88 L544.36 511.33 L545.31 510.78 L546.26 510.23 L547.21 509.68 L548.16 509.13 L549.1 508.57 L550.05 508.02 L551 507.46 L551.95 506.9 L552.89 506.34 L553.84 505.77 L554.79 505.21 L555.74 504.65 L556.69 504.08 L557.63 503.51 L558.58 502.95 L559.53 502.38 L560.48 501.82 L561.43 501.25 L562.37 500.69 L563.32 500.12 L564.27 499.56 L565.22 499 L566.17 498.44 L567.11 497.89 L568.06 497.33 L569.01 496.78 L569.96 496.23 L570.91 495.69 L571.85 495.14 L572.8 494.6 L573.75 494.07 L574.7 493.53 L575.65 493.01 L576.59 492.48 L577.54 491.96 L578.49 491.45 L579.44 490.94 L580.39 490.44 L581.33 489.95 L582.28 489.47 L583.23 488.99 L584.18 488.53 L585.13 488.07 L586.07 487.62 L587.02 487.17 L587.97 486.72 L588.92 486.28 L589.87 485.83 L590.81 485.38 L591.76 484.93 L592.71 484.48 L593.66 484.02 L594.61 483.55 L595.55 483.07 L596.5 482.59 L597.45 482.09 L598.4 481.59 L599.35 481.07 L600.29 480.53 L601.24 479.98 L602.19 479.4 L603.14 478.81 L604.08 478.2 L605.03 477.59 L605.98 476.96 L606.93 476.32 L607.88 475.68 L608.82 475.04 L609.77 474.4 L610.72 473.76 L611.67 473.13 L612.62 472.51 L613.56 471.89 L614.51 471.29 L615.46 470.7 L616.41 470.12 L617.36 469.53 L618.3 468.96 L619.25 468.38 L620.2 467.81 L621.15 467.24 L622.1 466.67 L623.04 466.1 L623.99 465.54 L624.94 464.97 L625.89 464.41 L626.84 463.84 L627.78 463.27 L628.73 462.7 L629.68 462.13 L630.63 461.56 L631.58 460.98 L632.52 460.4 L633.47 459.83 L634.42 459.25 L635.37 458.67 L636.32 458.1 L637.26 457.52 L638.21 456.95 L639.16 456.39 L640.11 455.82 L641.06 455.26 L642 454.71 L642.95 454.16 L643.9 453.61 L644.85 453.07 L645.8 452.54 L646.74 452 L647.69 451.47 L648.64 450.94 L649.59 450.42 L650.54 449.9 L651.48 449.38 L652.43 448.86 L653.38 448.35 L654.33 447.84 L655.27 447.34 L656.22 446.83 L657.17 446.33 L658.12 445.83 L659.07 445.33 L660.01 444.83 L660.96 444.33 L661.91 443.84 L662.86 443.37 L663.81 442.9 L664.75 442.46 L665.7 442.03 L666.65 441.63 L667.6 441.24 L668.55 440.86 L669.49 440.49 L670.44 440.13 L671.39 439.75 L672.34 439.37 L673.29 439 L674.23 438.66 L675.18 438.36 L676.13 438.12 L677.08 437.9 L678.03 437.71 L678.97 437.53 L679.92 437.39 L680.87 437.27 L681.82 437.16 L682.77 437.06 L683.71 436.98 L684.66 436.92 L685.61 436.9 L686.56 436.88 L687.51 436.87 L688.45 436.86 L689.4 436.85 L690.35 436.85 L691.3 436.85 L692.25 436.86 L693.19 436.86 L694.14 436.86 L695.09 436.86 L696.04 436.86 L696.99 436.85 L697.93 436.85 L698.88 436.85 L699.83 436.85 L700.78 436.85 L701.73 436.85 L702.67 436.85 L703.62 436.85 L704.57 436.85 L705.52 436.85 L706.46 436.85 L707.41 436.85 L708.36 436.85 L709.31 436.85 L710.26 436.85 L711.2 436.85 L712.15 436.85 L713.1 436.86 L714.05 436.86 L715 436.87 L715.94 436.87 L716.89 436.88 L717.84 436.89 L718.79 436.89 L719.74 436.9 L720.68 436.9 L721.63 436.91 L722.58 436.92 L723.53 436.93 L724.48 436.93 L725.42 436.94 L726.37 436.95 L727.32 436.96 L728.27 436.98 L729.22 436.99 L730.16 437 L731.11 437.02 L732.06 437.05 L733.01 437.07 L733.96 437.1 L734.9 437.14 L735.85 437.17 L736.8 437.19 L737.75 437.22 L738.7 437.25 L739.64 437.28 L740.59 437.31 L741.54 437.34 L742.49 437.36 L743.44 437.38 L744.38 437.39 L745.33 437.4 L746.28 437.41 L747.23 437.41 L748.18 437.42 L749.12 437.42 L750.07 437.43 L751.02 437.43 L751.97 437.44 L752.92 437.44 L753.86 437.44 L754.81 437.44 L755.76 437.45 L756.71 437.45 L757.65 437.45 L758.6 437.45 L759.55 437.45 L760.5 437.45 L761.45 437.45 L762.39 437.45 L763.34 437.45 L764.29 437.45 L765.24 437.45 L766.19 437.45 L767.13 437.45 L768.08 437.45 L769.03 437.45 L769.98 437.45 L770.93 437.45 L771.87 437.45 L772.82 437.45 L773.77 437.45 L774.72 437.45 L775.67 437.45 L776.61 437.45 L777.56 437.45 L778.51 437.45 L779.46 437.45 L780.41 437.45 L781.35 437.45 L782.3 437.45 L783.25 437.45 L784.2 437.45 L785.15 437.45 L786.09 437.45 L787.04 437.45 L787.99 437.45 L788.94 437.45 L789.89 437.45 L790.83 437.45 L791.78 437.45 L792.73 437.45 L793.68 437.45 L794.63 437.45 L795.57 437.45 L796.52 437.45 L797.47 437.45 L798.42 437.45 L799.37 437.45 L800.31 437.45 L801.26 437.45 L802.21 437.45 L803.16 437.45 L804.11 437.45 L805.05 437.45 L806 437.45 L806.95 437.45 L807.9 437.45 L808.84 437.45 L809.79 437.45 L810.74 437.45 L811.69 437.45 L812.64 437.45 L813.58 437.45 L814.53 437.45 L815.48 437.45 L816.43 437.45 L817.38 437.45 L818.32 437.45 L819.27 437.45 L820.22 437.45 L821.17 437.45 L822.12 437.45 L823.06 437.45 L824.01 437.45 L824.96 437.45 L825.91 437.45 L826.86 437.45 L827.8 437.45 L828.75 437.45 L829.7 437.45" fill="none" stroke="#0000ff" stroke-width="0.68" stroke-dasharray="2.05 2.95"/>
<path d="M527.3 519.5 L528.25 518.94 L529.2 518.37 L530.14 517.81 L531.09 517.24 L532.04 516.68 L532.99 516.12 L533.94 515.55 L534.88 514.99 L535.83 514.43 L536.78 513.86 L537.73 513.3 L538.68 512.74 L539.62 512.17 L540.57 511.61 L541.52 511.05 L542.47 510.49 L543.42 509.92 L544.36 509.36 L545.31 508.8 L546.26 508.24 L547.21 507.68 L548.16 507.11 L549.1 506.55 L550.05 505.98 L551 505.42 L551.95 504.85 L552.89 504.28 L553.84 503.71 L554.79 503.14 L555.74 502.57 L556.69 502 L557.63 501.43 L558.58 500.86 L559.53 500.29 L560.48 499.72 L561.43 499.16 L562.37 498.59 L563.32 498.03 L564.27 497.47 L565.22 496.91 L566.17 496.35 L567.11 495.8 L568.06 495.25 L569.01 494.7 L569.96 494.16 L570.91 493.62 L571.85 493.09 L572.8 492.55 L573.75 492.03 L574.7 491.51 L575.65 491 L576.59 490.49 L577.54 489.99 L578.49 489.49 L579.44 488.99 L580.39 488.5 L581.33 488.01 L582.28 487.53 L583.23 487.04 L584.18 486.56 L585.13 486.08 L586.07 485.6 L587.02 485.11 L587.97 484.63 L588.92 484.15 L589.87 483.66 L590.81 483.17 L591.76 482.68 L592.71 482.18 L593.66 481.69 L594.61 481.18 L595.55 480.67 L596.5 480.16 L597.45 479.64 L598.4 479.11 L599.35 478.57 L600.29 478.03 L601.24 477.48 L602.19 476.91 L603.14 476.33 L604.08 475.75 L605.03 475.16 L605.98 474.57 L606.93 473.97 L607.88 473.38 L608.82 472.79 L609.77 472.2 L610.72 471.62 L611.67 471.04 L612.62 470.45 L613.56 469.87 L614.51 469.29 L615.46 468.71 L616.41 468.14 L617.36 467.57 L618.3 467 L619.25 466.43 L620.2 465.86 L621.15 465.3 L622.1 464.74 L623.04 464.19 L623.99 463.65 L624.94 463.11 L625.89 462.58 L626.84 462.07 L627.78 461.56 L628.73 461.06 L629.68 460.55 L630.63 460.04 L631.58 459.52 L632.52 458.99 L633.47 458.43 L634.42 457.85 L635.37 457.26 L636.32 456.67 L637.26 456.08 L638.21 455.51 L639.16 454.96 L640.11 454.43 L641.06 453.94 L642 453.46 L642.95 453 L643.9 452.54 L644.85 452.09 L645.8 451.63 L646.74 451.17 L647.69 450.7 L648.64 450.22 L649.59 449.73 L650.54 449.24 L651.48 448.75 L652.43 448.26 L653.38 447.77 L654.33 447.29 L655.27 446.81 L656.22 446.35 L657.17 445.88 L658.12 445.42 L659.07 444.97 L660.01 444.52 L660.96 444.07 L661.91 443.63 L662.86 443.2 L663.81 442.76 L664.75 442.33 L665.7 441.9 L666.65 441.48 L667.6 441.06 L668.55 440.67 L669.49 440.29 L670.44 439.93 L671.39 439.59 L672.34 439.25 L673.29 438.94 L674.23 438.65 L675.18 438.4 L676.13 438.17 L677.08 437.95 L678.03 437.76 L678.97 437.59 L679.92 437.46 L680.87 437.33 L681.82 437.22 L682.77 437.12 L683.71 437.04 L684.66 436.99 L685.61 436.96 L686.56 436.93 L687.51 436.91 L688.45 436.89 L689.4 436.88 L690.35 436.87 L691.3 436.87 L692.25 436.86 L693.19 436.86 L694.14 436.86 L695.09 436.86 L696.04 436.85 L696.99 436.85 L697.93 436.85 L698.88 436.85 L699.83 436.85 L700.78 436.85 L701.73 436.85 L702.67 436.85 L703.62 436.85 L704.57 436.85 L705.52 436.85 L706.46 436.85 L707.41 436.85 L708.36 436.85 L709.31 436.85 L710.26 436.85 L711.2 436.85 L712.15 436.85 L713.1 436.86 L714.05 436.86 L715 436.87 L715.94 436.87 L716.89 436.88 L717.84 436.89 L718.79 436.89 L719.74 436.9 L720.68 436.9 L721.63 436.91 L722.58 436.92 L723.53 436.93 L724.48 436.93 L725.42 436.94 L726.37 436.95 L727.32 436.96 L728.27 436.98 L729.22 436.99 L730.16 437 L731.11 437.02 L732.06 437.05 L733.01 437.07 L733.96 437.1 L734.9 437.14 L735.85 437.17 L736.8 437.19 L737.75 437.22 L738.7 437.25 L739.64 437.28 L740.59 437.31 L741.54 437.34 L742.49 437.36 L743.44 437.38 L744.38 437.39 L745.33 437.4 L746.28 437.41 L747.23 437.41 L748.18 437.42 L749.12 437.42 L750.07 437.43 L751.02 437.43 L751.97 437.44 L752.92 437.44 L753.86 437.44 L754.81 437.44 L755.76 437.45 L756.71 437.45 L757.65 437.45 L758.6 437.45 L759.55 437.45 L760.5 437.45 L761.45 437.45 L762.39 437.45 L763.34 437.45 L764.29 437.45 L765.24 437.45 L766.19 437.45 L767.13 437.45 L768.08 437.45 L769.03 437.45 L769.98 437.45 L770.93 437.45 L771.87 437.45 L772.82 437.45 L773.77 437.45 L774.72 437.45 L775.67 437.45 L776.61 437.45 L777.56 437.45 L778.51 437.45 L779.46 437.45 L780.41 437.45 L781.35 437.45 L782.3 437.45 L783.25 437.45 L784.2 437.45 L785.15 437.45 L786.09 437.45 L787.04 437.45 L787.99 437.45 L788.94 437.45 L789.89 437.45 L790.83 437.45 L791.78 437.45 L792.73 437.45 L793.68 437.45 L794.63 437.45 L795.57 437.45 L796.52 437.45 L797.47 437.45 L798.42 437.45 L799.37 437.45 L800.31 437.45 L801.26 437.45 L802.21 437.45 L803.16 437.45 L804.11 437.45 L805.05 437.45 L806 437.45 L806.95 437.45 L807.9 437.45 L808.84 437.45 L809.79 437.45 L810.74 437.45 L811.69 437.45 L812.64 437.45 L813.58 437.45 L814.53 437.45 L815.48 437.45 L816.43 437.45 L817.38 437.45 L818.32 437.45 L819.27 437.45 L820.22 437.45 L821.17 437.45 L822.12 437.45 L823.06 437.45 L824.01 437.45 L824.96 437.45 L825.91 437.45 L826.86 437.45 L827.8 437.45 L828.75 437.45 L829.7 437.45" fill="none" stroke="#ff00ff" stroke-width="0.68" stroke-dasharray="4.05 5.95"/>
<rect x="94.75" y="0.35" width="302.52" height="302.4" fill="none" stroke="#000" stroke-width="1.4"/>
<rect x="526.9" y="0.35" width="302.52" height="302.4" fill="none" stroke="#000" stroke-width="1.4"/>
<rect x="94.75" y="378.4" width="302.52" height="302.4" fill="none" stroke="#000" stroke-width="1.4"/>
<rect x="526.9" y="378.4" width="302.52" height="302.4" fill="none" stroke="#000" stroke-width="1.4"/>
<text transform="translate(52.9,52.43) scale(0.9961,1.0000)" font-size="21.8">10</text>
<text transform="translate(58.91,116.79) scale(0.9370,1.0000)" font-size="21.8">1</text>
<text transform="translate(50.67,181.14) scale(1.0189,1.0000)" font-size="21.8">0.1</text>
<text transform="translate(45.17,245.5) scale(1.0160,1.0000)" font-size="21.8">0.01</text>
<text transform="translate(39.77,309.85) scale(1.0101,1.0000)" font-size="21.8">0.001</text>
<text transform="translate(143.35,329.8) scale(1.0189,1.0000)" font-size="21.8">0.1</text>
<text transform="translate(240.62,329.8) scale(0.9370,1.0000)" font-size="21.8">1</text>
<text transform="translate(323.64,329.8) scale(0.9961,1.0000)" font-size="21.8">10</text>
<text transform="translate(242.38,358.45) scale(0.9058,1.0000)" font-size="20.3" font-style="italic">y</text>
<text transform="translate(484.8,52.43) scale(0.9961,1.0000)" font-size="21.8">10</text>
<text transform="translate(490.81,116.79) scale(0.9370,1.0000)" font-size="21.8">1</text>
<text transform="translate(482.57,181.14) scale(1.0189,1.0000)" font-size="21.8">0.1</text>
<text transform="translate(477.07,245.5) scale(1.0160,1.0000)" font-size="21.8">0.01</text>
<text transform="translate(471.67,309.85) scale(1.0101,1.0000)" font-size="21.8">0.001</text>
<text transform="translate(575.5,329.8) scale(1.0189,1.0000)" font-size="21.8">0.1</text>
<text transform="translate(672.77,329.8) scale(0.9370,1.0000)" font-size="21.8">1</text>
<text transform="translate(755.79,329.8) scale(0.9961,1.0000)" font-size="21.8">10</text>
<text transform="translate(674.53,358.45) scale(0.9058,1.0000)" font-size="20.3" font-style="italic">y</text>
<text transform="translate(52.9,430.48) scale(0.9961,1.0000)" font-size="21.8">10</text>
<text transform="translate(58.91,494.84) scale(0.9370,1.0000)" font-size="21.8">1</text>
<text transform="translate(50.67,559.19) scale(1.0189,1.0000)" font-size="21.8">0.1</text>
<text transform="translate(45.17,623.55) scale(1.0160,1.0000)" font-size="21.8">0.01</text>
<text transform="translate(39.77,687.9) scale(1.0101,1.0000)" font-size="21.8">0.001</text>
<text transform="translate(143.35,707.85) scale(1.0189,1.0000)" font-size="21.8">0.1</text>
<text transform="translate(240.62,707.85) scale(0.9370,1.0000)" font-size="21.8">1</text>
<text transform="translate(323.64,707.85) scale(0.9961,1.0000)" font-size="21.8">10</text>
<text transform="translate(242.38,736.5) scale(0.9058,1.0000)" font-size="20.3" font-style="italic">y</text>
<text transform="translate(484.8,410.1) scale(0.9961,1.0000)" font-size="21.8">10</text>
<text transform="translate(490.81,444.86) scale(0.9370,1.0000)" font-size="21.8">1</text>
<text transform="translate(482.57,479.62) scale(1.0189,1.0000)" font-size="21.8">0.1</text>
<text transform="translate(477.17,514.39) scale(1.0104,1.0000)" font-size="21.8">0.01</text>
<text transform="translate(471.98,549.15) scale(0.9973,1.0000)" font-size="21.8">0.001</text>
<text transform="translate(474.4,586.31) scale(0.9961,1.0000)" font-size="21.8">10</text>
<line x1="497.5" y1="574.21" x2="507.9" y2="574.21" stroke="#000" stroke-width="0.9"/>
<text transform="translate(509.69,578.21) scale(0.9990,1.0000)" font-size="15.5">4</text>
<text transform="translate(474.4,621.07) scale(0.9961,1.0000)" font-size="21.8">10</text>
<line x1="497.5" y1="608.97" x2="507.9" y2="608.97" stroke="#000" stroke-width="0.9"/>
<text transform="translate(508.98,612.97) scale(1.1470,1.0000)" font-size="15.5">5</text>
<text transform="translate(474.4,655.84) scale(0.9961,1.0000)" font-size="21.8">10</text>
<line x1="497.5" y1="643.74" x2="507.9" y2="643.74" stroke="#000" stroke-width="0.9"/>
<text transform="translate(509.28,647.74) scale(1.0866,1.0000)" font-size="15.5">6</text>
<text transform="translate(474.4,690.6) scale(0.9961,1.0000)" font-size="21.8">10</text>
<line x1="497.5" y1="678.5" x2="507.9" y2="678.5" stroke="#000" stroke-width="0.9"/>
<text transform="translate(508.85,682.5) scale(1.1399,1.0000)" font-size="15.5">7</text>
<text transform="translate(575.5,707.85) scale(1.0189,1.0000)" font-size="21.8">0.1</text>
<text transform="translate(672.77,707.85) scale(0.9370,1.0000)" font-size="21.8">1</text>
<text transform="translate(755.79,707.85) scale(0.9961,1.0000)" font-size="21.8">10</text>
<text transform="translate(673.54,736.7) scale(1.1500,1.0000)" font-size="20.6" font-style="italic">z</text>
<g transform="translate(18.4,185) rotate(-90)">
<text transform="translate(1.1,0) scale(1.0400,1.0000)" font-size="22" font-style="italic">f</text>
<text transform="translate(11.52,3.4) scale(0.9491,1.0000)" font-size="17.5" font-style="italic">N</text>
<line x1="27.7" y1="4.9" x2="35.5" y2="-16.3" stroke="#000" stroke-width="1"/>
<text transform="translate(39.6,0) scale(1.0400,1.0000)" font-size="22" font-style="italic">f</text>
<text transform="translate(49.92,6.4) scale(0.9491,1.0000)" font-size="17.5" font-style="italic">N</text>
<text transform="translate(51.66,-10.6) scale(0.9860,1.0000)" font-size="15" font-style="italic">eq</text>
</g>
<g transform="translate(450.8,185) rotate(-90)">
<text transform="translate(1.1,0) scale(1.0400,1.0000)" font-size="22" font-style="italic">f</text>
<text transform="translate(11.52,3.4) scale(0.9491,1.0000)" font-size="17.5" font-style="italic">N</text>
<line x1="27.7" y1="4.9" x2="35.5" y2="-16.3" stroke="#000" stroke-width="1"/>
<text transform="translate(39.6,0) scale(1.0400,1.0000)" font-size="22" font-style="italic">f</text>
<text transform="translate(49.92,6.4) scale(0.9491,1.0000)" font-size="17.5" font-style="italic">N</text>
<text transform="translate(51.66,-10.6) scale(0.9860,1.0000)" font-size="15" font-style="italic">eq</text>
</g>
<g transform="translate(18.4,563.1) rotate(-90)">
<text transform="translate(1.1,0) scale(1.0400,1.0000)" font-size="22" font-style="italic">f</text>
<text transform="translate(11.52,3.4) scale(0.9491,1.0000)" font-size="17.5" font-style="italic">N</text>
<line x1="27.7" y1="4.9" x2="35.5" y2="-16.3" stroke="#000" stroke-width="1"/>
<text transform="translate(39.6,0) scale(1.0400,1.0000)" font-size="22" font-style="italic">f</text>
<text transform="translate(49.92,6.4) scale(0.9491,1.0000)" font-size="17.5" font-style="italic">N</text>
<text transform="translate(51.66,-10.6) scale(0.9860,1.0000)" font-size="15" font-style="italic">eq</text>
</g>
<g transform="translate(450.5,569) rotate(-90)">
<text transform="translate(0.38,0) scale(1.0248,1.0000)" font-size="23.5" font-style="italic">N</text>
<text transform="translate(17.54,3.5) scale(1.0914,1.0000)" font-size="17.5" font-style="italic">N</text>
<line x1="34.2" y1="4.9" x2="41.8" y2="-16.6" stroke="#000" stroke-width="1"/>
<text transform="translate(43.57,0) scale(0.9895,1.0000)" font-size="23.5" font-style="italic">N</text>
<text transform="translate(60.44,6.6) scale(1.0914,1.0000)" font-size="17.5" font-style="italic">N</text>
<text transform="translate(62.5,-10.7) scale(1.0186,1.0000)" font-size="16.5" font-style="italic">eq</text>
</g>
<text transform="translate(114.11,57.9) scale(1.1073,1.0000)" font-size="22.5" font-style="italic">K</text>
<line x1="140.5" y1="50.5" x2="155.1" y2="50.5" stroke="#000" stroke-width="0.95"/>
<line x1="140.5" y1="54.65" x2="155.1" y2="54.65" stroke="#000" stroke-width="0.95"/>
<text transform="translate(161.99,57.9) scale(0.9020,1.0000)" font-size="21.7">1</text>
<text transform="translate(172.8,57.9) scale(0.9867,1.0000)" font-size="21.7">0</text>
<text transform="translate(184.38,57.9) scale(0.8909,1.0000)" font-size="21.7">,</text>
<text transform="translate(198.78,57.9) scale(1.1500,1.0000)" font-size="22" font-style="italic">z</text>
<line x1="216.2" y1="50.5" x2="230.8" y2="50.5" stroke="#000" stroke-width="0.95"/>
<line x1="216.2" y1="54.65" x2="230.8" y2="54.65" stroke="#000" stroke-width="0.95"/>
<text transform="translate(237.31,57.9) scale(0.9759,1.0000)" font-size="21.7">0</text>
<text transform="translate(249.32,57.9) scale(0.7680,1.0000)" font-size="21.7">.</text>
<text transform="translate(254.37,57.9) scale(1.0075,1.0000)" font-size="21.7">2</text>
<text transform="translate(272.68,57.9) scale(1.0042,1.0000)" font-size="22.5">D</text>
<text transform="translate(289.37,57.9) scale(0.9811,1.0000)" font-size="21.7">4</text>
<path d="M341 52.5 L372 52.5" fill="none" stroke="#00ff00" stroke-width="0.68" stroke-dasharray="9.9 5.1"/>
<text transform="translate(114.11,77.8) scale(1.1073,1.0000)" font-size="22.5" font-style="italic">K</text>
<line x1="140.5" y1="70.5" x2="155.1" y2="70.5" stroke="#000" stroke-width="0.95"/>
<line x1="140.5" y1="74.65" x2="155.1" y2="74.65" stroke="#000" stroke-width="0.95"/>
<text transform="translate(161.99,77.8) scale(0.9020,1.0000)" font-size="21.7">1</text>
<text transform="translate(172.8,77.8) scale(0.9867,1.0000)" font-size="21.7">0</text>
<text transform="translate(184.38,77.8) scale(0.8909,1.0000)" font-size="21.7">,</text>
<text transform="translate(198.78,77.8) scale(1.1500,1.0000)" font-size="22" font-style="italic">z</text>
<line x1="216.2" y1="70.5" x2="230.8" y2="70.5" stroke="#000" stroke-width="0.95"/>
<line x1="216.2" y1="74.65" x2="230.8" y2="74.65" stroke="#000" stroke-width="0.95"/>
<text transform="translate(237.31,77.8) scale(0.9759,1.0000)" font-size="21.7">0</text>
<text transform="translate(249.32,77.8) scale(0.7680,1.0000)" font-size="21.7">.</text>
<text transform="translate(254.37,77.8) scale(1.0075,1.0000)" font-size="21.7">2</text>
<text transform="translate(272.55,77.8) scale(1.0188,1.0000)" font-size="22.5">S</text>
<text transform="translate(284.67,77.8) scale(1.0075,1.0000)" font-size="21.7">2</text>
<path d="M341 72.5 L372 72.5" fill="none" stroke="#ff00ff" stroke-width="0.68" stroke-dasharray="4.05 5.95"/>
<text transform="translate(557.51,57.9) scale(1.1073,1.0000)" font-size="22.5" font-style="italic">K</text>
<line x1="583.9" y1="50.5" x2="598.5" y2="50.5" stroke="#000" stroke-width="0.95"/>
<line x1="583.9" y1="54.65" x2="598.5" y2="54.65" stroke="#000" stroke-width="0.95"/>
<text transform="translate(605.39,57.9) scale(0.9020,1.0000)" font-size="21.7">1</text>
<text transform="translate(616.2,57.9) scale(0.9867,1.0000)" font-size="21.7">0</text>
<text transform="translate(627.77,57.9) scale(0.8909,1.0000)" font-size="21.7">,</text>
<text transform="translate(642.18,57.9) scale(1.1500,1.0000)" font-size="22" font-style="italic">z</text>
<line x1="659.6" y1="50.5" x2="674.2" y2="50.5" stroke="#000" stroke-width="0.95"/>
<line x1="659.6" y1="54.65" x2="674.2" y2="54.65" stroke="#000" stroke-width="0.95"/>
<text transform="translate(681.19,57.9) scale(0.9020,1.0000)" font-size="21.7">1</text>
<text transform="translate(698.98,57.9) scale(1.0042,1.0000)" font-size="22.5">D</text>
<text transform="translate(715.67,57.9) scale(0.9811,1.0000)" font-size="21.7">4</text>
<path d="M760.05 52.5 L791.05 52.5" fill="none" stroke="#00ff00" stroke-width="0.68" stroke-dasharray="9.9 5.1"/>
<text transform="translate(557.51,77.8) scale(1.1073,1.0000)" font-size="22.5" font-style="italic">K</text>
<line x1="583.9" y1="70.5" x2="598.5" y2="70.5" stroke="#000" stroke-width="0.95"/>
<line x1="583.9" y1="74.65" x2="598.5" y2="74.65" stroke="#000" stroke-width="0.95"/>
<text transform="translate(605.39,77.8) scale(0.9020,1.0000)" font-size="21.7">1</text>
<text transform="translate(616.2,77.8) scale(0.9867,1.0000)" font-size="21.7">0</text>
<text transform="translate(627.77,77.8) scale(0.8909,1.0000)" font-size="21.7">,</text>
<text transform="translate(642.18,77.8) scale(1.1500,1.0000)" font-size="22" font-style="italic">z</text>
<line x1="659.6" y1="70.5" x2="674.2" y2="70.5" stroke="#000" stroke-width="0.95"/>
<line x1="659.6" y1="74.65" x2="674.2" y2="74.65" stroke="#000" stroke-width="0.95"/>
<text transform="translate(681.19,77.8) scale(0.9020,1.0000)" font-size="21.7">1</text>
<text transform="translate(698.85,77.8) scale(1.0188,1.0000)" font-size="22.5">S</text>
<text transform="translate(710.97,77.8) scale(1.0075,1.0000)" font-size="21.7">2</text>
<path d="M760.05 72.5 L791.05 72.5" fill="none" stroke="#ff00ff" stroke-width="0.68" stroke-dasharray="4.05 5.95"/>
<text transform="translate(125.21,568) scale(1.1073,1.0000)" font-size="22.5" font-style="italic">K</text>
<line x1="151.6" y1="560.5" x2="166.2" y2="560.5" stroke="#000" stroke-width="0.95"/>
<line x1="151.6" y1="564.65" x2="166.2" y2="564.65" stroke="#000" stroke-width="0.95"/>
<text transform="translate(173.09,568) scale(0.9020,1.0000)" font-size="21.7">1</text>
<text transform="translate(183.9,568) scale(0.9867,1.0000)" font-size="21.7">0</text>
<text transform="translate(195.47,568) scale(0.8909,1.0000)" font-size="21.7">,</text>
<text transform="translate(209.88,568) scale(1.1500,1.0000)" font-size="22" font-style="italic">z</text>
<line x1="227.3" y1="560.5" x2="241.9" y2="560.5" stroke="#000" stroke-width="0.95"/>
<line x1="227.3" y1="564.65" x2="241.9" y2="564.65" stroke="#000" stroke-width="0.95"/>
<text transform="translate(248.61,568) scale(0.9558,1.0000)" font-size="21.7">5</text>
<text transform="translate(266.88,568) scale(1.0042,1.0000)" font-size="22.5">D</text>
<text transform="translate(283.57,568) scale(0.9811,1.0000)" font-size="21.7">4</text>
<path d="M328.1 562.5 L359.1 562.5" fill="none" stroke="#00ff00" stroke-width="0.68" stroke-dasharray="9.9 5.1"/>
<text transform="translate(125.21,587.9) scale(1.1073,1.0000)" font-size="22.5" font-style="italic">K</text>
<line x1="151.6" y1="580.5" x2="166.2" y2="580.5" stroke="#000" stroke-width="0.95"/>
<line x1="151.6" y1="584.65" x2="166.2" y2="584.65" stroke="#000" stroke-width="0.95"/>
<text transform="translate(173.09,587.9) scale(0.9020,1.0000)" font-size="21.7">1</text>
<text transform="translate(183.9,587.9) scale(0.9867,1.0000)" font-size="21.7">0</text>
<text transform="translate(195.47,587.9) scale(0.8909,1.0000)" font-size="21.7">,</text>
<text transform="translate(209.88,587.9) scale(1.1500,1.0000)" font-size="22" font-style="italic">z</text>
<line x1="227.3" y1="580.5" x2="241.9" y2="580.5" stroke="#000" stroke-width="0.95"/>
<line x1="227.3" y1="584.65" x2="241.9" y2="584.65" stroke="#000" stroke-width="0.95"/>
<text transform="translate(248.61,587.9) scale(0.9558,1.0000)" font-size="21.7">5</text>
<text transform="translate(266.75,587.9) scale(1.0188,1.0000)" font-size="22.5">S</text>
<text transform="translate(278.87,587.9) scale(1.0075,1.0000)" font-size="21.7">2</text>
<path d="M328.1 582.5 L359.1 582.5" fill="none" stroke="#ff00ff" stroke-width="0.68" stroke-dasharray="4.05 5.95"/>
<text transform="translate(669.31,591.95) scale(1.1073,1.0000)" font-size="22.5" font-style="italic">K</text>
<line x1="695.7" y1="584.5" x2="710.3" y2="584.5" stroke="#000" stroke-width="0.95"/>
<line x1="695.7" y1="588.65" x2="710.3" y2="588.65" stroke="#000" stroke-width="0.95"/>
<text transform="translate(717.19,591.95) scale(0.9020,1.0000)" font-size="21.7">1</text>
<text transform="translate(728,591.95) scale(0.9867,1.0000)" font-size="21.7">0</text>
<text transform="translate(739.57,591.95) scale(0.8909,1.0000)" font-size="21.7">,</text>
<text transform="translate(752.28,591.95) scale(1.0042,1.0000)" font-size="22.5">D</text>
<text transform="translate(768.99,591.95) scale(0.9020,1.0000)" font-size="21.7">1</text>
<path d="M800 586.5 L831 586.5" fill="none" stroke="#ff0000" stroke-width="0.68"/>
<text transform="translate(669.31,612.05) scale(1.1073,1.0000)" font-size="22.5" font-style="italic">K</text>
<line x1="695.7" y1="604.5" x2="710.3" y2="604.5" stroke="#000" stroke-width="0.95"/>
<line x1="695.7" y1="608.65" x2="710.3" y2="608.65" stroke="#000" stroke-width="0.95"/>
<text transform="translate(717.19,612.05) scale(0.9020,1.0000)" font-size="21.7">1</text>
<text transform="translate(728,612.05) scale(0.9867,1.0000)" font-size="21.7">0</text>
<text transform="translate(739.57,612.05) scale(0.8909,1.0000)" font-size="21.7">,</text>
<text transform="translate(752.28,612.05) scale(1.0042,1.0000)" font-size="22.5">D</text>
<text transform="translate(768.57,612.05) scale(0.9811,1.0000)" font-size="21.7">4</text>
<path d="M800 606.5 L831 606.5" fill="none" stroke="#00ff00" stroke-width="0.68" stroke-dasharray="9.9 5.1"/>
<text transform="translate(669.31,632.15) scale(1.1073,1.0000)" font-size="22.5" font-style="italic">K</text>
<line x1="695.7" y1="624.5" x2="710.3" y2="624.5" stroke="#000" stroke-width="0.95"/>
<line x1="695.7" y1="628.65" x2="710.3" y2="628.65" stroke="#000" stroke-width="0.95"/>
<text transform="translate(717.19,632.15) scale(0.9020,1.0000)" font-size="21.7">1</text>
<text transform="translate(728,632.15) scale(0.9867,1.0000)" font-size="21.7">0</text>
<text transform="translate(739.57,632.15) scale(0.8909,1.0000)" font-size="21.7">,</text>
<text transform="translate(752.15,632.15) scale(1.0188,1.0000)" font-size="22.5">S</text>
<text transform="translate(764.79,632.15) scale(0.9020,1.0000)" font-size="21.7">1</text>
<path d="M800 626.5 L831 626.5" fill="none" stroke="#0000ff" stroke-width="0.68" stroke-dasharray="2.05 2.95"/>
<text transform="translate(669.31,652.25) scale(1.1073,1.0000)" font-size="22.5" font-style="italic">K</text>
<line x1="695.7" y1="644.5" x2="710.3" y2="644.5" stroke="#000" stroke-width="0.95"/>
<line x1="695.7" y1="648.65" x2="710.3" y2="648.65" stroke="#000" stroke-width="0.95"/>
<text transform="translate(717.19,652.25) scale(0.9020,1.0000)" font-size="21.7">1</text>
<text transform="translate(728,652.25) scale(0.9867,1.0000)" font-size="21.7">0</text>
<text transform="translate(739.57,652.25) scale(0.8909,1.0000)" font-size="21.7">,</text>
<text transform="translate(752.15,652.25) scale(1.0188,1.0000)" font-size="22.5">S</text>
<text transform="translate(764.27,652.25) scale(1.0075,1.0000)" font-size="21.7">2</text>
<path d="M800 646.5 L831 646.5" fill="none" stroke="#ff00ff" stroke-width="0.68" stroke-dasharray="4.05 5.95"/>
</svg>
</body></html>
